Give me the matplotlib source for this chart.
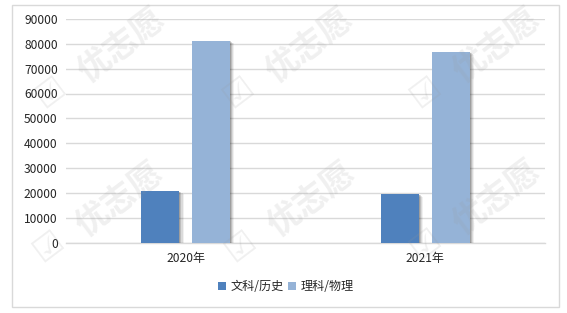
import matplotlib
matplotlib.use("Agg")
import matplotlib.pyplot as plt
import matplotlib.patheffects as pe
from matplotlib.patches import Rectangle
import numpy as np

plt.rcParams['font.family'] = ['Noto Sans CJK SC', 'DejaVu Sans']

categories = ["2020年", "2021年"]
series_names = ["文科/历史", "理科/物理"]
wenke = [20700, 19500]
like = [81200, 76700]
yticks = [0, 10000, 20000, 30000, 40000, 50000, 60000, 70000, 80000, 90000]

colors = ["#4F81BD", "#95B3D7"]

W, H = 567, 313
fig = plt.figure(figsize=(W / 100, H / 100), dpi=100)
fig.patch.set_facecolor("white")

# outer border
fig.add_artist(Rectangle((12 / W, 1 - 307 / H), (559 - 12) / W, (307 - 5) / H,
                         transform=fig.transFigure, fill=False,
                         edgecolor="#d9d9d9", linewidth=1.0, zorder=0))

ax = fig.add_axes([66 / W, 1 - 242.5 / H, (545 - 66) / W, (242.5 - 19) / H])
ax.set_xlim(-0.5, 1.5)
ax.set_ylim(0, 90000)

x = np.arange(len(categories))
bw = 0.159
off = 0.106

shadow = [pe.SimplePatchShadow(offset=(k * 0.75, -k * 0.45), shadow_rgbFace="#000000", alpha=a)
          for k, a in [(4, 0.06), (3, 0.09), (2, 0.13), (1, 0.16)]]
shadow.append(pe.Normal())

b1 = ax.bar(x - off, wenke, width=bw, color=colors[0], label=series_names[0], zorder=3)
b2 = ax.bar(x + off, like, width=bw, color=colors[1], label=series_names[1], zorder=3)

ax.set_yticks(yticks)
ax.set_yticklabels([str(v) for v in yticks])
ax.set_xticks(x)
ax.set_xticklabels(categories)
ax.grid(axis="y", color="#d9d9d9", linewidth=1.0, zorder=0)
ax.set_axisbelow(True)
for s in ["top", "right", "left"]:
    ax.spines[s].set_visible(False)
ax.spines["bottom"].set_color("#d9d9d9")
ax.spines["bottom"].set_linewidth(1.0)
ax.tick_params(axis="both", length=0, labelsize=8.7, colors="#262626")
ax.tick_params(axis="y", pad=6)
ax.tick_params(axis="x", pad=7)

leg = fig.legend(loc="center", bbox_to_anchor=(286 / W, 1 - 287 / H), ncol=2,
                 frameon=False, fontsize=8.7, handlelength=0.65, handleheight=0.65,
                 handletextpad=0.35, columnspacing=0.4, borderpad=0)
for t in leg.get_texts():
    t.set_color("#262626")

# bar shadows (applied after the legend so the legend keys stay flat)
for b in list(b1) + list(b2):
    b.set_path_effects(shadow)

# watermark
wm_centers = [(122, 46), (310, 46), (497, 46),
              (120, 200), (312, 200), (497, 198)]
for cx, cy in wm_centers:
    fig.text(cx / W, 1 - cy / H, "优志愿", rotation=37, fontsize=24,
             fontweight="bold", color="#9a9a9a", alpha=0.15,
             ha="center", va="center", rotation_mode="anchor", zorder=10)
    fig.text((cx - 72) / W, 1 - (cy + 46) / H, "☑", rotation=37, fontsize=24,
             color="#9a9a9a", alpha=0.15, ha="center", va="center",
             family=["DejaVu Sans"], rotation_mode="anchor", zorder=10)

fig.savefig("out.png", dpi=100, facecolor="white")
